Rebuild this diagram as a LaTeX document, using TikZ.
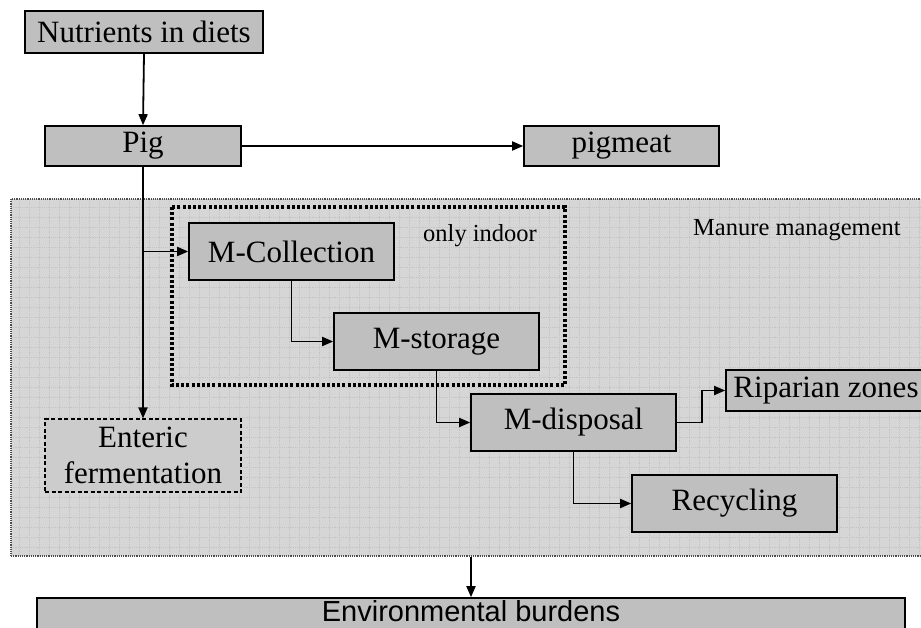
\documentclass[tikz,border=0pt]{standalone}
\usepackage{fontspec}
\setmainfont{Liberation Serif}
\newfontfamily\arialfont{Liberation Sans}
\usetikzlibrary{arrows.meta}
\begin{document}
\begin{tikzpicture}[x=1pt,y=-1pt,
  stepbox/.style={draw=black,line width=1.6pt,fill=black!25,inner sep=0pt,
    font=\fontsize{31}{36}\selectfont,align=center},
  flow/.style={draw=black,line width=1.8pt,-{Triangle[length=11pt,width=9pt]}},
  area/.style={draw=black!70,line width=1.2pt,densely dotted,fill=black!16,inner sep=0pt},
  gridline/.style={draw=black!23,line width=0.8pt},
  small/.style={font=\fontsize{24.5}{28}\selectfont,inner sep=0pt}]
\useasboundingbox (0,0) rectangle (921,628);
\clip (0,0) rectangle (921,628);

% manure management area with its fine grid texture
\node[area,minimum width=916pt,minimum height=357pt,
  path picture={\draw[gridline] (path picture bounding box.south west)
    grid[step=10pt] (path picture bounding box.north east);}]
  (mm) at (469,377.5) {};
\node[small,anchor=base west] (mmlabel) at (693,236) {Manure management};

% indoor-only frame
\draw[line width=3.2pt,dash pattern=on 3pt off 2.2pt] (172,207) rectangle (565,385);
\node[small,anchor=base west] (indoor) at (423,242) {only indoor};

% boxes
\node[stepbox,minimum width=238pt,minimum height=42pt] (nut) at (144,32) {Nutrients in diets};
\node[stepbox,minimum width=196pt,minimum height=40pt] (pig) at (143,146) {Pig};
\node[stepbox,minimum width=195pt,minimum height=40pt] (meat) at (621.5,146) {pigmeat};
\node[stepbox,minimum width=205pt,minimum height=57pt] (coll) at (291.5,251.5) {M-Collection};
\node[stepbox,minimum width=205pt,minimum height=57pt] (stor) at (436.5,341.5) {M-storage};
\node[stepbox,minimum width=205pt,minimum height=57pt] (disp) at (573.5,422.5) {M-disposal};
\node[stepbox,minimum width=200pt,minimum height=41pt] (rip) at (826,390.5) {Riparian zones};
\node[stepbox,minimum width=205pt,minimum height=57pt] (rec) at (734.5,503.5) {Recycling};
\node[stepbox,fill=black!20,line width=1.2pt,dash pattern=on 4pt off 2.5pt,
  minimum width=196pt,minimum height=73pt] (ent) at (143,455.5) {Enteric\\fermentation};
\node[stepbox,minimum width=868pt,minimum height=60pt] (env) at (471,628) {};
\node[font=\arialfont\fontsize{29}{34}\selectfont,inner sep=0pt,anchor=base]
  (envtext) at (471,621) {Environmental burdens};

% connectors
\draw[flow] (nut.south) -- (pig.north);
\draw[flow] (pig.east) -- (meat.west);
\draw[flow] (pig.south) -- (ent.north);
\draw[flow] (pig.south |- coll.west) -- (coll.west);
\draw[flow] (coll.south) |- (stor.west);
\draw[flow] (stor.south) |- (disp.west);
\draw[flow] (disp.east) -- ++(25,0) |- (rip.west);
\draw[flow] (disp.south) |- (rec.west);
\draw[flow] (mm.south -| env.north) -- (env.north);
\end{tikzpicture}
\end{document}
